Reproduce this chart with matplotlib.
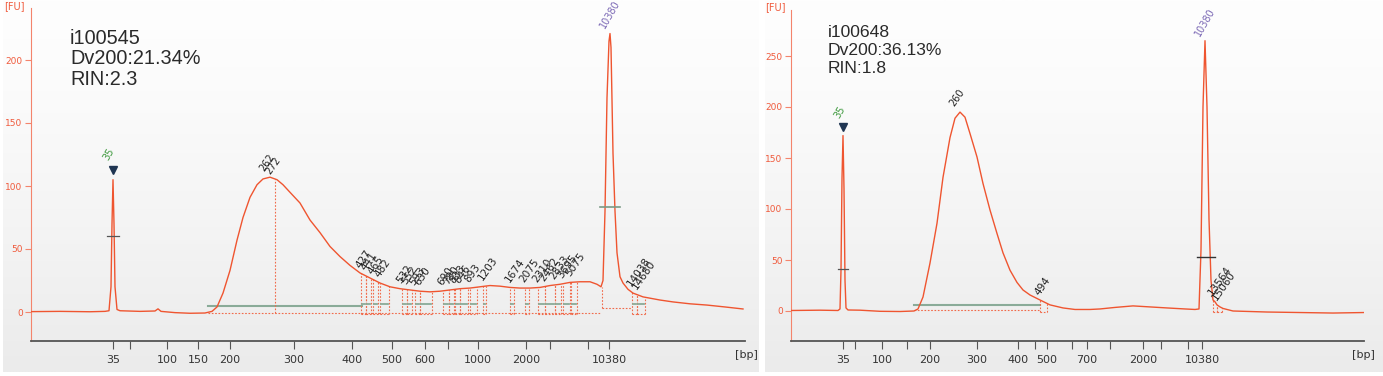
import numpy as np
import matplotlib.pyplot as plt
from matplotlib.colors import to_rgb

W, H = 1383, 376

# ---- sample 1 (i100545): trace as (migration position, FU)
s1_pos = [31, 60, 90, 105, 109, 111, 112, 113, 114, 115, 117, 120, 140, 155, 158, 161, 175, 190,
          205, 212, 217, 223, 230, 237, 243, 250, 257, 263, 270, 277, 283, 290, 300, 310, 320,
          330, 340, 350, 360, 370, 380, 390, 400, 410, 420, 430, 440, 450, 460, 470, 480, 490,
          500, 510, 520, 530, 540, 550, 560, 570, 580, 590, 597, 601, 603, 605, 607, 609, 610,
          611, 613, 615, 617, 620, 623, 628, 633, 643, 660, 673, 690, 707, 725, 743]
s1_fu = [0.3, 0.5, 0.2, 0.5, 1, 20, 70, 105, 70, 20, 2, 1, 0.5, 0.8, 2.5, 0.5, -0.5, -1,
         -0.8, 0.5, 4, 15, 33, 57, 75, 91, 101, 105.6, 107, 105, 101, 95, 86.5, 73, 63,
         52, 44, 37, 31, 27, 23, 20, 18.5, 17.5, 16.5, 16, 16.5, 17.5, 18.5, 19, 20, 21,
         20.5, 19.5, 19, 19, 19.5, 21, 22, 23.5, 24, 24, 22, 20, 25, 80, 170, 215, 221,
         210, 126, 80, 47, 28, 23, 18, 15, 12, 9.5, 8, 6.5, 5.5, 4, 2.4]

s1_ticks = [113, 130, 167, 198, 230, 294, 352, 392, 425, 448, 478, 526, 550, 588, 609]
s1_ticklabels = ["35", "", "100", "150", "200", "300", "400", "500", "600", "", "1000",
                 "2000", "", "", "10380"]

s1_peak_labels = ["427", "441", "465", "482", "532", "552", "593", "630", "690", "780",
                  "833", "846", "893", "1203", "1674", "2075", "2310", "2462", "2833",
                  "3695", "5075", "14038", "14680"]
s1_peak_lo = [361, 366, 373, 380, 402, 407, 415, 420, 443, 449, 455, 460, 470, 483, 510,
              525, 538, 545, 555, 563, 571, 632, 637]
s1_peak_hi = [366, 371, 378, 389, 407, 412, 420, 432, 449, 454, 460, 468, 477, 486, 514,
              529, 545, 555, 561, 570, 577, 637, 645]

# ---- sample 2 (i100648)
s2_pos = [791, 820, 838, 840, 841, 842, 843, 844, 845, 846, 848, 860, 880, 900, 914, 918,
          923, 930, 937, 943, 950, 955, 960, 965, 970, 977, 983, 990, 997, 1003, 1010, 1017,
          1023, 1030, 1040, 1050, 1063, 1075, 1090, 1100, 1115, 1133, 1150, 1167, 1185,
          1195, 1199, 1201, 1203, 1205, 1207, 1209, 1211, 1213, 1215, 1217, 1220, 1223,
          1233, 1267, 1300, 1333, 1364]
s2_fu = [0.5, 0.8, 0.5, 2, 40, 130, 172, 120, 30, 3, 1, 0.8, -0.3, -0.5, 0, 2,
         13.7, 47, 86, 131, 170, 189, 195, 190, 174, 151, 125, 99, 76, 57, 40, 28,
         20.6, 15.7, 10.8, 6, 3, 1.5, 1.5, 2, 3.5, 5, 4, 3, 2,
         1.5, 2, 60, 200, 265, 200, 90, 30, 10.8, 9, 6, 4, 2.5,
         0, -1, -1.5, -2, -1.5]

s2_ticks = [843, 854.5, 882, 907, 930, 977, 1018, 1035, 1047, 1071.5, 1087, 1109.5, 1143,
            1161, 1187.6, 1202]
s2_ticklabels = ["35", "", "100", "", "200", "300", "400", "", "500", "", "700", "",
                 "2000", "", "", "10380"]

s2_peak_labels = ["494", "13564", "15060"]
s2_peak_lo = [1040, 1213, 1217]
s2_peak_hi = [1047, 1217, 1222]

RED = "#ef5530"
GREEN_LINE = "#8aab98"
DOT = "#f06a4a"
NARROW = ["Liberation Sans Narrow", "DejaVu Sans"]


def frac(x0, y0, x1, y1):
    return [x0 / W, 1 - y1 / H, (x1 - x0) / W, (y1 - y0) / H]


def background(rect):
    bg = fig.add_axes(frac(*rect), zorder=0)
    top = np.array(to_rgb("#fefefe"))
    bot = np.array(to_rgb("#ebebeb"))
    t = np.linspace(0, 1, 200)[:, None] ** 1.3
    grad = top * (1 - t) + bot * t
    bg.imshow(grad[:, None, :].repeat(2, axis=1), aspect="auto", extent=[0, 1, 0, 1])
    bg.axis("off")


def panel(rect, ylim, yticks, pos, fu, ticks, ticklabels):
    ax = fig.add_axes(frac(*rect), zorder=1)
    ax.set_facecolor("none")
    ax.plot(pos, fu, color=RED, lw=1.0, zorder=3)
    ax.set_xlim(rect[0], rect[2])
    ax.set_ylim(*ylim)
    ax.set_yticks(yticks)
    ax.set_xticks(ticks)
    ax.set_xticklabels(ticklabels, family=NARROW)
    for s in ["top", "right"]:
        ax.spines[s].set_visible(False)
    ax.spines["left"].set_color("#f4846c")
    ax.spines["bottom"].set_color("#555555")
    ax.spines["bottom"].set_linewidth(1.3)
    ax.tick_params(axis="y", colors="#f4846c", labelcolor="#f05a3c", length=4,
                   labelsize=6.5, pad=2)
    ax.tick_params(axis="x", colors="#555555", labelcolor="#333333", length=6,
                   labelsize=8, pad=4)
    return ax


def dotted(ax, xs, ys):
    ax.plot(xs, ys, ls=(0, (1.5, 1.5)), color=DOT, lw=0.8, zorder=2)


def small_peaks(ax, pos, fu, labels, lo, hi, base=-1.5, green=6.5):
    for lab, a, b in zip(labels, lo, hi):
        for x in (a, b):
            dotted(ax, [x, x], [base, np.interp(x, pos, fu)])
        dotted(ax, [a, b], [base, base])
        if green is not None:
            ax.plot([a + 1, b - 1], [green, green], color=GREEN_LINE, lw=1.3, zorder=2)
        ax.text(a + 1, np.interp(a, pos, fu) + 3, lab, rotation=55, rotation_mode="anchor",
                ha="left", va="bottom", fontsize=7.5, color="#222222")


def peak_label(ax, x, y, s, color, rot=55):
    ax.text(x, y, s, rotation=rot, rotation_mode="anchor", ha="left", va="bottom",
            fontsize=7, color=color)


fig = plt.figure(figsize=(W / 100, H / 100), dpi=100)
background((3, 0, 759, 372))
background((765, 0, 1383, 372))

# ---- left panel
ax1 = panel((31, 8, 745, 341), ((312 - 341) / 1.26, (312 - 8) / 1.26),
            [0, 50, 100, 150, 200], s1_pos, s1_fu, s1_ticks, s1_ticklabels)
ax1.plot([208, 362], [4.8, 4.8], color=GREEN_LINE, lw=1.5, zorder=2)
dotted(ax1, [208, 600], [-0.8, -0.8])
dotted(ax1, [275, 275], [-0.8, np.interp(275, s1_pos, s1_fu)])
dotted(ax1, [602, 602], [3, 20])
dotted(ax1, [602, 632], [3, 3])
ax1.plot([107, 119], [60, 60], color="#555555", lw=0.9, zorder=4)
ax1.plot([600, 620], [83, 83], color="#7a9a85", lw=1.2, zorder=4)
small_peaks(ax1, s1_pos, s1_fu, s1_peak_labels, s1_peak_lo, s1_peak_hi)
ax1.plot([113], [113], marker="v", color="#1f3552", ms=6, zorder=5)
peak_label(ax1, 110, 119, "35", "#3f9a3f", 60)
peak_label(ax1, 266, 110, "262", "#222222")
peak_label(ax1, 272, 108, "272", "#222222")
peak_label(ax1, 607, 224, "10380", "#7b68b5", 60)

# ---- right panel
ax2 = panel((791, 10, 1364, 341), ((311 - 341) / 1.02, (311 - 10) / 1.02),
            [0, 50, 100, 150, 200, 250], s2_pos, s2_fu, s2_ticks, s2_ticklabels)
ax2.plot([914, 1040], [6, 6], color=GREEN_LINE, lw=1.5, zorder=2)
dotted(ax2, [914, 1040], [0.5, 0.5])
ax2.plot([838, 848], [41, 41], color="#555555", lw=0.9, zorder=4)
ax2.plot([1197, 1215], [53, 53], color="#333333", lw=1.0, zorder=4)
small_peaks(ax2, s2_pos, s2_fu, s2_peak_labels, s2_peak_lo, s2_peak_hi, base=-0.5,
            green=None)
ax2.plot([843], [180], marker="v", color="#1f3552", ms=6, zorder=5)
peak_label(ax2, 841, 187, "35", "#3f9a3f", 60)
peak_label(ax2, 956, 199, "260", "#222222")
peak_label(ax2, 1202, 268, "10380", "#7b68b5", 60)

# ---- axis unit labels and sample info
for x, y in [(4, 9), (765, 10)]:
    fig.text(x / W, 1 - y / H, "[FU]", fontsize=7, color="#f05a3c")
for x in (735, 1352):
    fig.text(x / W, 1 - 358 / H, "[bp]", fontsize=8, color="#333333", family=NARROW)
fig.text(70 / W, 1 - 29 / H, "i100545\nDv200:21.34%\nRIN:2.3", fontsize=14.3,
         family=["Liberation Sans", "DejaVu Sans"], color="#2a2a2a", va="top",
         linespacing=1.1)
fig.text(828 / W, 1 - 25 / H, "i100648\nDv200:36.13%\nRIN:1.8", fontsize=12.6,
         family=["Liberation Sans", "DejaVu Sans"], color="#2a2a2a", va="top",
         linespacing=1.25)

fig.savefig("out.png", dpi=100)
